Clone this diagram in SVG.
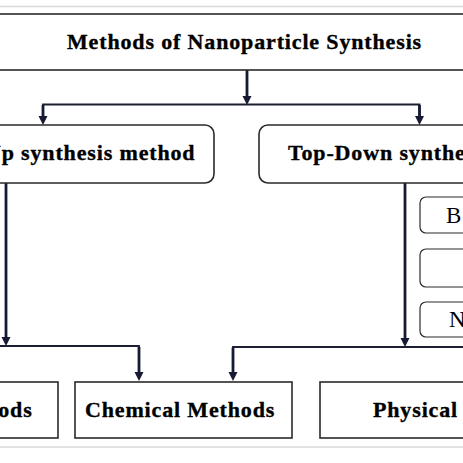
<svg xmlns="http://www.w3.org/2000/svg" width="463" height="463" viewBox="0 0 463 463">
<style>
.t{font-family:"Liberation Serif","Times New Roman",serif;font-weight:bold;font-size:22px;letter-spacing:0.85px;fill:#000;stroke:#000;stroke-width:0.35px}
.s{font-family:"Liberation Serif","Times New Roman",serif;font-size:23px;fill:#000}
.box{fill:#fff;stroke:#2a2a2a;stroke-width:1.6}
.sm{fill:#fff;stroke:#2a2a2a;stroke-width:1.2}
.h{fill:none;stroke:#1c1f33;stroke-width:1.8}
.v{fill:none;stroke:#161a33;stroke-width:2.8}
.edge{stroke:#d8d8d8;stroke-width:1.5}
.ah{fill:#161a33}
</style>
<rect width="463" height="463" fill="#fff"/>
<line class="edge" x1="0" y1="6.5" x2="463" y2="6.5"/>
<line class="edge" x1="0" y1="447" x2="463" y2="447"/>

<g id="connectors">
<path class="v" d="M247,70 V97"/>
<path class="ah" d="M242.5,96 L251.5,96 L247,105 Z"/>
<path class="h" d="M43,119 V104.5 H419.5 V119"/>
<path class="v" d="M43,105 V117"/>
<path class="ah" d="M38.5,116 L47.5,116 L43,125 Z"/>
<path class="v" d="M419.5,105 V117"/>
<path class="ah" d="M415,116 L424,116 L419.5,125 Z"/>
<path class="v" d="M6,183 V338"/>
<path class="ah" d="M1.5,337 L10.5,337 L6,346 Z"/>
<path class="h" d="M-5,346 H139 V372"/>
<path class="v" d="M139,347 V373"/>
<path class="ah" d="M134.5,372 L143.5,372 L139,381 Z"/>
<path class="v" d="M405,183 V339"/>
<path class="ah" d="M400.5,338 L409.5,338 L405,347 Z"/>
<path class="h" d="M470,347 H233 V372"/>
<path class="v" d="M233,347.5 V373"/>
<path class="ah" d="M228.5,372 L237.5,372 L233,381 Z"/>
</g>

<g id="n-title">
<rect class="box" x="-5" y="14" width="475" height="56"/>
<text class="t" x="67" y="49">Methods of Nanoparticle Synthesis</text>
</g>

<g id="n-bottomup">
<rect class="box" x="-120" y="125" width="334" height="58" rx="9"/>
<text class="t" x="-98" y="160">Bottom-Up synthesis method</text>
</g>

<g id="n-topdown">
<rect class="box" x="259" y="125" width="334" height="58" rx="9"/>
<text class="t" x="288" y="160">Top-Down synthesis method</text>
</g>

<g id="n-sub1">
<rect class="sm" x="420" y="197" width="90" height="36" rx="6"/>
<text class="s" x="446" y="223">B</text>
</g>
<g id="n-sub2">
<rect class="sm" x="420" y="249" width="90" height="38" rx="6"/>
</g>
<g id="n-sub3">
<rect class="sm" x="420" y="302" width="90" height="35" rx="6"/>
<text class="s" x="449" y="327">N</text>
</g>

<g id="n-biological">
<rect class="box" x="-160" y="382" width="218" height="56"/>
<text class="t" x="-163" y="417">Biological Methods</text>
</g>

<g id="n-chemical">
<rect class="box" x="75" y="382" width="217" height="56"/>
<text class="t" x="85" y="417">Chemical Methods</text>
</g>

<g id="n-physical">
<rect class="box" x="320" y="382" width="280" height="56"/>
<text class="t" x="373" y="417">Physical Methods</text>
</g>
</svg>
